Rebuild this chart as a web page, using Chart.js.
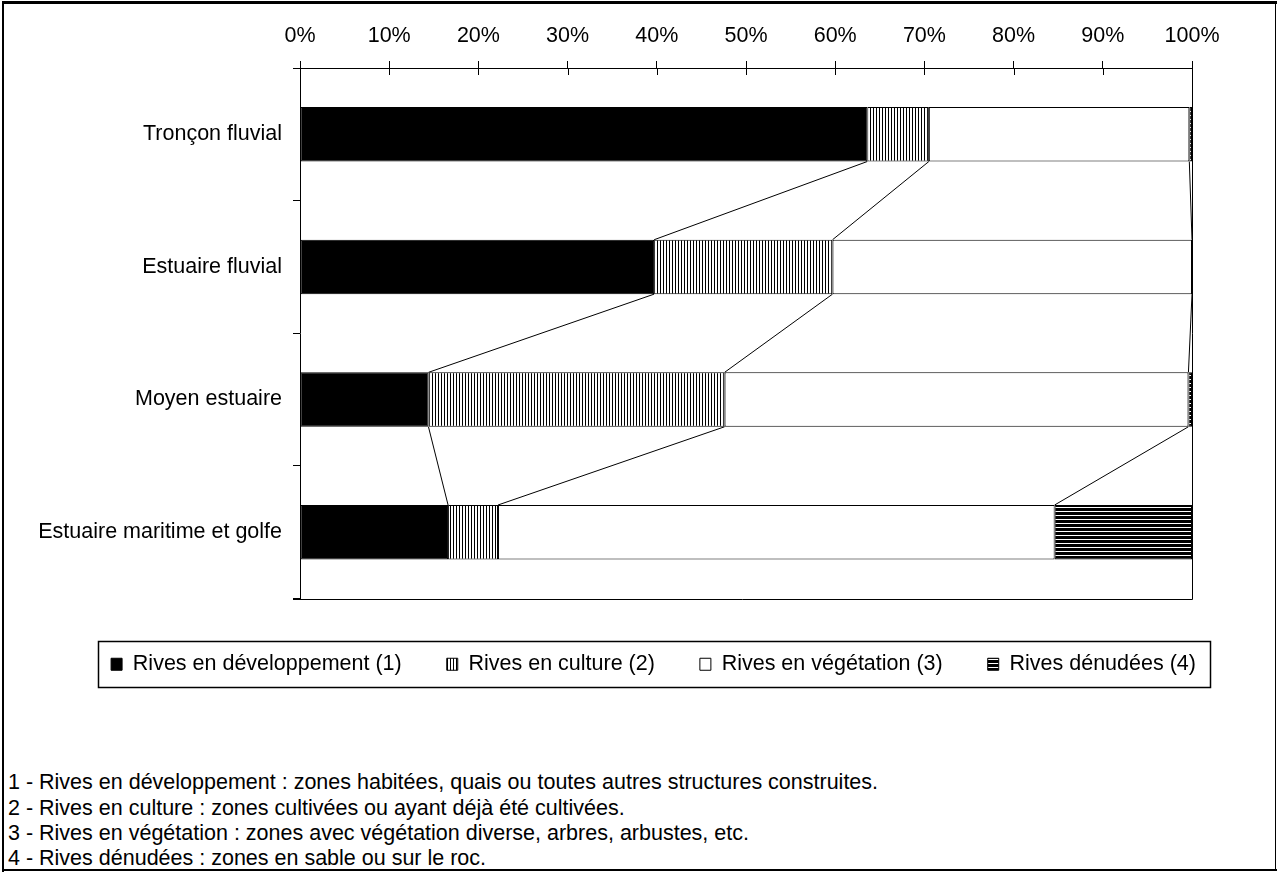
<!DOCTYPE html>
<html>
<head>
<meta charset="utf-8">
<script src="https://cdn.jsdelivr.net/npm/chart.js@4.4.1/dist/chart.umd.min.js"></script>
<style>
  html, body { margin: 0; padding: 0; background: #fff; }
  body { width: 1277px; height: 874px; position: relative; overflow: hidden;
         font-family: "Liberation Sans", Arial, sans-serif; color: #000; }
  #wrap { position: absolute; left: 0; top: 0; width: 1277px; height: 700px; }
  .note { position: absolute; left: 8px; font-size: 21.5px; line-height: 25px; white-space: nowrap; }
  .ln { position: absolute; background: #000; }
</style>
</head>
<body>
<div id="wrap"><canvas id="c" width="1277" height="700"></canvas></div>

<div class="note" style="top:770px">1 - Rives en développement : zones habitées, quais ou toutes autres structures construites.</div>
<div class="note" style="top:796px">2 - Rives en culture : zones cultivées ou ayant déjà été cultivées.</div>
<div class="note" style="top:821px">3 - Rives en végétation : zones avec végétation diverse, arbres, arbustes, etc.</div>
<div class="note" style="top:846px">4 - Rives dénudées : zones en sable ou sur le roc.</div>

<div class="ln" style="left:2px;top:1px;width:1275px;height:3px"></div>
<div class="ln" style="left:2px;top:1px;width:2px;height:871px"></div>
<div class="ln" style="left:2px;top:869px;width:1275px;height:2px"></div>
<div class="ln" style="left:1275px;top:1px;width:1px;height:870px"></div>

<script>
const categories = ['Tronçon fluvial', 'Estuaire fluvial', 'Moyen estuaire', 'Estuaire maritime et golfe'];
const seriesNames = ['Rives en développement (1)', 'Rives en culture (2)', 'Rives en végétation (3)', 'Rives dénudées (4)'];
const developpement = [63.6, 39.7, 14.4, 16.6];
const culture = [6.9, 20.0, 33.2, 5.6];
const vegetation = [29.2, 40.3, 52.0, 62.4];
const denudees = [0.3, 0, 0.4, 15.4];
const tickValues = [0, 10, 20, 30, 40, 50, 60, 70, 80, 90, 100];

const FONT = '"Liberation Sans", Arial, sans-serif';
const FS = 21.5;

function makePattern(kind) {
  const p = document.createElement('canvas');
  p.width = kind === 'v' ? 3 : 4; p.height = 4;
  const g = p.getContext('2d');
  g.fillStyle = '#fff'; g.fillRect(0, 0, p.width, p.height);
  g.fillStyle = '#000';
  if (kind === 'v') { g.fillRect(0, 0, 1, 4); }
  else { g.fillRect(0, 0, 4, 3); }
  return document.getElementById('c').getContext('2d').createPattern(p, 'repeat');
}
const vPattern = makePattern('v');
const hPattern = makePattern('h');

const frameAndTicks = {
  id: 'frameAndTicks',
  afterDraw(chart) {
    const ctx = chart.ctx, xs = chart.scales.x, a = chart.chartArea;
    ctx.save();
    ctx.strokeStyle = '#000'; ctx.lineWidth = 1;
    xs.ticks.forEach(t => {
      const x = Math.round(xs.getPixelForValue(t.value)) + 0.5;
      ctx.beginPath(); ctx.moveTo(x, a.top); ctx.lineTo(x, a.top + 7); ctx.stroke();
    });
    ctx.beginPath();
    ctx.moveTo(Math.round(a.right) + 0.5, a.top);
    ctx.lineTo(Math.round(a.right) + 0.5, Math.round(a.bottom) + 0.5);
    ctx.lineTo(a.left - 7, Math.round(a.bottom) + 0.5);
    ctx.stroke();
    const lg = chart.legend;
    if (lg && lg.legendHitBoxes && lg.legendHitBoxes.length) {
      const hb = lg.legendHitBoxes;
      const first = hb[0], last = hb[hb.length - 1];
      const cy = first.top + first.height / 2;
      const l = Math.round(first.left - 13) + 0.5;
      const r = Math.round(last.left + last.width + 14) + 0.5;
      const t = Math.round(cy - 23) + 0.5;
      const b = Math.round(cy + 23) + 0.5;
      ctx.lineWidth = 1.5;
      ctx.strokeRect(l, t, r - l, b - t);
    }
    ctx.restore();
  }
};

const seriesLines = {
  id: 'seriesLines',
  afterDatasetsDraw(chart) {
    const ctx = chart.ctx;
    ctx.save();
    ctx.strokeStyle = '#000'; ctx.lineWidth = 1;
    for (let d = 0; d < 3; d++) {
      const meta = chart.getDatasetMeta(d);
      for (let i = 0; i < meta.data.length - 1; i++) {
        const a = meta.data[i], b = meta.data[i + 1];
        ctx.beginPath();
        ctx.moveTo(a.x, a.y + a.height / 2);
        ctx.lineTo(b.x, b.y - b.height / 2);
        ctx.stroke();
      }
    }
    ctx.restore();
  }
};

new Chart(document.getElementById('c'), {
  type: 'bar',
  data: {
    labels: categories,
    datasets: [
      { label: seriesNames[0], data: developpement, backgroundColor: '#000' },
      { label: seriesNames[1], data: culture, backgroundColor: vPattern },
      { label: seriesNames[2], data: vegetation, backgroundColor: '#fff' },
      { label: seriesNames[3], data: denudees, backgroundColor: hPattern }
    ].map(ds => Object.assign(ds, {
      borderColor: '#000', borderWidth: 1, borderSkipped: false,
      barPercentage: 0.41, categoryPercentage: 1, xAxisID: 'x', yAxisID: 'y'
    }))
  },
  options: {
    indexAxis: 'y',
    responsive: false,
    animation: false,
    layout: { padding: { left: 30, right: 0, top: 0, bottom: 15 } },
    scales: {
      x: {
        position: 'top', stacked: true, min: 0, max: 100,
        afterFit(s) { s.height = 68; },
        afterBuildTicks(s) { s.ticks = tickValues.map(v => ({ value: v })); },
        ticks: { color: '#000', padding: 12, font: { family: FONT, size: FS },
                 callback: v => v + '%', maxRotation: 0 },
        grid: { drawOnChartArea: false, tickLength: 7, color: '#000', tickWidth: 1 },
        border: { display: true, color: '#000', width: 1 }
      },
      y: {
        stacked: true,
        afterFit(s) { s.width = 270; },
        ticks: { color: '#000', padding: 11, font: { family: FONT, size: FS } },
        grid: { drawOnChartArea: false, tickLength: 7, color: '#000', offset: true },
        border: { display: true, color: '#000', width: 1 }
      },
      yr: {
        type: 'linear', position: 'right', axis: 'y', display: true,
        afterFit(s) { s.width = 85; },
        grid: { display: false }, ticks: { display: false }, border: { display: false }
      },
      xb: {
        type: 'linear', position: 'bottom', axis: 'x', display: true,
        afterFit(s) { s.height = 10; },
        grid: { display: false }, ticks: { display: false }, border: { display: false }
      }
    },
    plugins: {
      legend: {
        position: 'bottom',
        labels: { color: '#000', font: { family: FONT, size: FS }, boxWidth: 11, boxHeight: 12, padding: 45 }
      },
      tooltip: { enabled: false }
    }
  },
  plugins: [seriesLines, frameAndTicks]
});
</script>
</body>
</html>
